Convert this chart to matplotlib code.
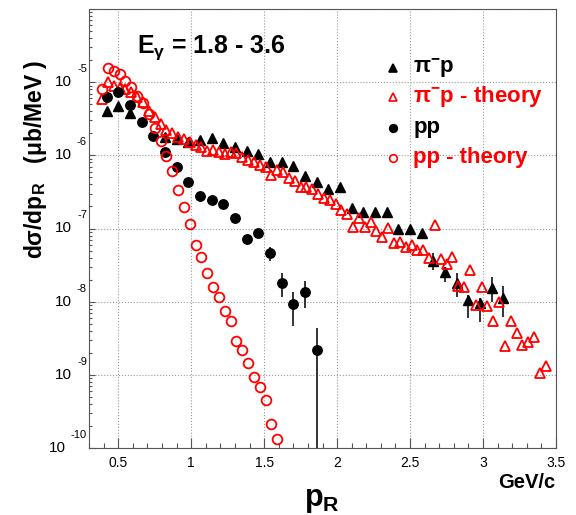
import matplotlib
matplotlib.use('Agg')
import matplotlib.pyplot as plt
from matplotlib.ticker import LogLocator, MultipleLocator, NullFormatter

plt.rcParams['font.family'] = ['Liberation Sans', 'DejaVu Sans']
plt.rcParams['mathtext.default'] = 'regular'

# pi- p data
pim_x = [0.42, 0.50, 0.58, 0.82, 0.90, 0.98, 1.06, 1.14, 1.22, 1.30, 1.38, 1.46, 1.54, 1.62, 1.70, 1.78, 1.86,
         1.94, 2.02, 2.10, 2.18, 2.26, 2.34, 2.42, 2.50, 2.58, 2.66, 2.74, 2.82, 2.90, 2.98, 3.06, 3.14]
pim_y = [4.0e-6, 4.7e-6, 3.76e-6, 1.77e-6, 1.66e-6, 1.51e-6, 1.60e-6, 1.71e-6, 1.46e-6, 1.29e-6,
         1.13e-6, 1.03e-6, 8.0e-7, 8.0e-7, 7.06e-7, 5.15e-7, 4.27e-7, 3.42e-7, 3.65e-7, 1.88e-7,
         1.66e-7, 1.66e-7, 1.66e-7, 1.0e-7, 9.7e-8, 8.55e-8, 3.65e-8, 2.58e-8, 1.82e-8, 1.06e-8,
         9.7e-9, 1.56e-8, 1.13e-8]
pim_err_x = [2.66, 2.74, 2.82, 2.90, 2.98, 3.06, 3.14]
pim_err_lo = [2.74e-8, 1.88e-8, 1.17e-8, 6.0e-9, 5.2e-9, 1.0e-8, 6.2e-9]
pim_err_hi = [4.69e-8, 3.01e-8, 2.49e-8, 1.25e-8, 1.13e-8, 2.2e-8, 1.66e-8]

# pi- p theory
pimth_x = [0.39, 0.43, 0.47, 0.51, 0.55, 0.59, 0.63, 0.67, 0.71, 0.75,
           0.79, 0.83, 0.87, 0.91, 0.95, 0.99, 1.03, 1.07, 1.11, 1.15,
           1.19, 1.23, 1.27, 1.31, 1.35, 1.39, 1.43, 1.47, 1.51, 1.55,
           1.59, 1.63, 1.67, 1.71, 1.75, 1.79, 1.83, 1.87, 1.91, 1.95,
           1.99, 2.03, 2.07, 2.11, 2.15, 2.19, 2.23, 2.27, 2.31, 2.35,
           2.39, 2.43, 2.47, 2.51, 2.55, 2.59, 2.63, 2.67, 2.71, 2.75,
           2.79, 2.83, 2.87, 2.91, 2.95, 2.99, 3.03, 3.07, 3.11, 3.15,
           3.19, 3.23, 3.27, 3.31, 3.35, 3.39, 3.43]
pimth_y = [5.85e-6, 1.00e-5, 8.82e-6, 8.28e-6, 8.02e-6, 7.30e-6, 6.23e-6, 5.32e-6, 4.01e-6, 3.32e-6,
           2.66e-6, 2.20e-6, 2.00e-6, 1.77e-6, 1.66e-6, 1.51e-6, 1.37e-6, 1.29e-6, 1.13e-6, 1.17e-6,
           1.10e-6, 1.03e-6, 1.10e-6, 1.06e-6, 9.39e-7, 8.55e-7, 8.02e-7, 7.30e-7, 6.85e-7, 5.32e-7,
           6.23e-7, 5.85e-7, 4.84e-7, 4.40e-7, 3.65e-7, 3.65e-7, 3.42e-7, 2.92e-7, 2.58e-7, 2.42e-7,
           2.13e-7, 1.77e-7, 1.60e-7, 1.06e-7, 1.37e-7, 1.06e-7, 1.21e-7, 9.10e-8, 7.54e-8, 1.03e-7,
           6.43e-8, 6.64e-8, 5.66e-8, 6.04e-8, 5.15e-8, 5.15e-8, 4.01e-8, 1.13e-7, 3.88e-8, 3.32e-8,
           4.13e-8, 1.66e-8, 1.60e-8, 2.74e-8, 9.10e-9, 1.60e-8, 8.82e-9, 5.49e-9, 1.00e-8, 2.49e-9,
           5.49e-9, 3.76e-9, 2.58e-9, 2.83e-9, 3.32e-9, 1.06e-9, 1.33e-9]

# pp data
pp_x = [0.42, 0.50, 0.58, 0.66, 0.74, 0.82, 0.90, 0.98, 1.06, 1.14, 1.22, 1.30, 1.38, 1.46, 1.54,
        1.62, 1.70, 1.78, 1.86]
pp_y = [6.2e-6, 7.3e-6, 4.8e-6, 2.83e-6, 1.82e-6, 1.10e-6, 6.86e-7, 4.27e-7, 2.74e-7, 2.49e-7,
        2.13e-7, 1.37e-7, 7.3e-8, 8.55e-8, 4.69e-8, 1.82e-8, 9.4e-9, 1.37e-8, 2.2e-9]
pp_err_x = [1.54, 1.62, 1.70, 1.78, 1.86]
pp_err_lo = [3.65e-8, 1.17e-8, 4.7e-9, 8.3e-9, 1e-10]
pp_err_hi = [5.5e-8, 2.5e-8, 1.37e-8, 1.94e-8, 4.4e-9]

# pp theory
ppth_x = [0.39, 0.43, 0.47, 0.51, 0.55, 0.59, 0.63, 0.67, 0.71, 0.75,
          0.79, 0.83, 0.87, 0.91, 0.95, 0.99, 1.03, 1.07, 1.11, 1.15,
          1.19, 1.23, 1.27, 1.31, 1.35, 1.39, 1.43, 1.47, 1.51, 1.55, 1.59]
ppth_y = [8.02e-6, 1.56e-5, 1.42e-5, 1.29e-5, 1.03e-5, 8.55e-6, 6.43e-6, 5.15e-6, 3.65e-6, 2.34e-6,
          1.56e-6, 9.69e-7, 6.04e-7, 3.32e-7, 1.94e-7, 1.17e-7, 6.04e-8, 4.13e-8, 2.49e-8, 1.60e-8,
          1.17e-8, 7.53e-9, 5.49e-9, 2.92e-9, 2.20e-9, 1.46e-9, 9.39e-10, 6.85e-10, 4.55e-10, 2.13e-10,
          1.33e-10]

xticks = [0.5, 1, 1.5, 2, 2.5, 3, 3.5]
xticklabels = ['0.5', '1', '1.5', '2', '2.5', '3', '3.5']

fig = plt.figure(figsize=(5.76, 5.15), dpi=100)
ax = fig.add_axes([89/576, 67/515, 467/576, 439/515])
ax.set_yscale('log')
ax.set_xlim(0.3, 3.5)
ax.set_ylim(1e-10, 1e-4)

red = '#ff0000'
ax.vlines(pim_err_x, pim_err_lo, pim_err_hi, color='#222222', lw=1.3, zorder=3)
ax.plot(pim_x, pim_y, ls='none', marker='^', ms=7, color='k', zorder=3)
ax.plot(pimth_x, pimth_y, ls='none', marker='^', ms=7.5, mfc='none', mec=red, mew=1.3, zorder=4)
ax.vlines(pp_err_x, pp_err_lo, pp_err_hi, color='#222222', lw=1.3, zorder=5)
ax.plot(pp_x, pp_y, ls='none', marker='o', ms=6.8, color='k', zorder=5)
ax.plot(ppth_x, ppth_y, ls='none', marker='o', ms=7, mfc='none', mec=red, mew=1.3, zorder=6)

ax.set_xticks(xticks)
ax.set_xticklabels(xticklabels, fontsize=10)
ax.xaxis.set_minor_locator(MultipleLocator(0.1))
ax.yaxis.set_major_locator(LogLocator(base=10, numticks=12))
ax.yaxis.set_minor_locator(LogLocator(base=10, subs=range(2, 10), numticks=12))
ax.yaxis.set_major_formatter(NullFormatter())
ax.yaxis.set_minor_formatter(NullFormatter())
ax.tick_params(axis='x', which='major', direction='in', length=7.5, width=0.8, color='#555555', pad=6)
ax.tick_params(axis='x', which='minor', direction='in', length=3.6, width=0.8, color='#555555')
ax.tick_params(axis='y', which='major', direction='in', length=4.5, width=0.8, color='#555555')
ax.tick_params(axis='y', which='minor', direction='in', length=2.5, width=0.8, color='#555555')
ax.grid(True, which='major', ls=':', color='#999999', lw=0.8)
for s in ax.spines.values():
    s.set_color('#555555')
    s.set_linewidth(0.8)

# ROOT-style y labels: "10" with a raised exponent
for e in range(-10, -4):
    ex = ax.annotate(str(e), xy=(0, 10.0**e), xycoords=('axes fraction', 'data'),
                     xytext=(-1.5, 9.4), textcoords='offset points',
                     ha='right', va='center', fontsize=8)
    ax.annotate('10', xy=(0, 0.5), xycoords=ex, xytext=(-3.5, -9.4),
                textcoords='offset points', ha='right', va='center', fontsize=11)

# legend
leg_labels = ['π$^{-}$p', 'π$^{-}$p - theory', 'pp', 'pp - theory']
leg_colors = ['k', red, 'k', red]
leg_markers = ['^', '^', 'o', 'o']
leg_filled = [True, False, True, False]
leg_y = [0.866, 0.800, 0.729, 0.661]
for lab, c, m, f, yy in zip(leg_labels, leg_colors, leg_markers, leg_filled, leg_y):
    ax.plot([0.651], [yy], transform=ax.transAxes, marker=m, ms=5.5, ls='none',
            mfc=c if f else 'none', mec=c, mew=1.2, clip_on=False)
    ax.text(0.694, yy, lab, transform=ax.transAxes, color=c, fontsize=16,
            fontweight='bold', va='center', ha='left')

fig.text(137/576, 1 - 53/515, 'E$_{γ}$ = 1.8 - 3.6', fontsize=18, fontweight='bold',
         ha='left', va='baseline')
fig.text(36/576, 1 - 60/515, 'dσ/dp$_{R}$   (μb/MeV )', fontsize=16.5, fontweight='bold',
         rotation=90, ha='center', va='top')
fig.text(555/576, 1 - 473/515, 'GeV/c', fontsize=14.5, fontweight='bold', ha='right', va='top')
fig.text(322/576, 1 - 506/515, 'p$_{R}$', fontsize=22, fontweight='bold', ha='center', va='baseline')

fig.savefig('out.png', dpi=100)
